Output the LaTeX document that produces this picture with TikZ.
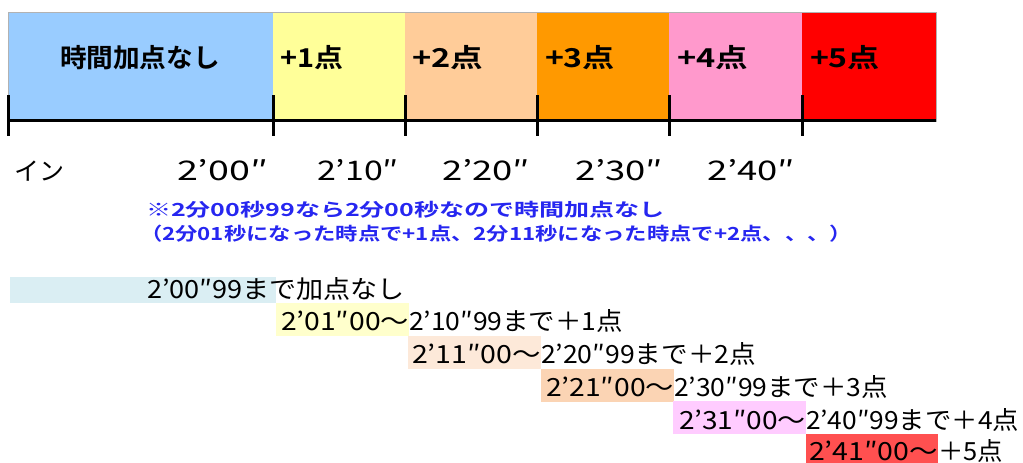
\documentclass[tikz,border=0pt]{standalone}
\usepackage{fontspec}
\usepackage{graphicx}
\setmainfont{Noto Sans CJK JP}
\newfontfamily\jp{Noto Sans CJK JP}
\newfontfamily\jpb{Noto Sans CJK JP Bold}
\newcommand\fitw[2]{\resizebox{#1pt}{\height}{#2}}
\definecolor{c0}{HTML}{99CCFF}
\definecolor{c1}{HTML}{FFFF99}
\definecolor{c2}{HTML}{FFCC99}
\definecolor{c3}{HTML}{FF9900}
\definecolor{c4}{HTML}{FF99CC}
\definecolor{c5}{HTML}{FF0000}
\definecolor{r0}{HTML}{DAEEF3}
\definecolor{r1}{HTML}{FFFFCC}
\definecolor{r2}{HTML}{FDE9D9}
\definecolor{r3}{HTML}{FBD4B4}
\definecolor{r4}{HTML}{FFCCFF}
\definecolor{r5}{HTML}{FF5050}
\definecolor{notecol}{HTML}{2626F0}
\begin{document}
\begin{tikzpicture}[x=1pt,y=-1pt,
  every node/.style={inner sep=0pt, outer sep=0pt},
  seglbl/.style={anchor=base west, font=\jpb\fontsize{26}{26}\selectfont, text=black},
  axlbl/.style={anchor=base east, font=\jp\fontsize{27}{27}\selectfont, text=black},
  note/.style={anchor=base west, font=\jpb\fontsize{18}{18}\selectfont, text=notecol},
  rowtxt/.style={anchor=base west, font=\jp\fontsize{25}{25}\selectfont, text=black},
  axis/.style={line width=3pt, black}
]
\useasboundingbox (0,0) rectangle (1023,463);
% top bar
\fill[c0] (8,12) rectangle (273,121);
\fill[c1] (273,12) rectangle (405,121);
\fill[c2] (405,12) rectangle (537,121);
\fill[c3] (537,12) rectangle (669,121);
\fill[c4] (669,12) rectangle (802,121);
\fill[c5] (802,12) rectangle (936,121);
\draw[black!30, line width=0.8pt] (8,12) rectangle (936,121);
\draw[axis] (8,120) -- (936,120);
\foreach \x in {8,273,405,537,669,802} \draw[axis] (\x,95) -- (\x,136);
% segment labels
\node[seglbl, anchor=base] (l0) at (140,67) {\fitw{160}{時間加点なし}};
\node[seglbl] (l1) at (280,67) {\fitw{63}{+1点}};
\node[seglbl] (l2) at (412,67) {\fitw{71}{+2点}};
\node[seglbl] (l3) at (545,67) {\fitw{70}{+3点}};
\node[seglbl] (l4) at (677,67) {\fitw{71}{+4点}};
\node[seglbl] (l5) at (810,67) {\fitw{70}{+5点}};
% axis labels
\node[anchor=base west, font=\jp\fontsize{25}{25}\selectfont] (in) at (14,180) {イン};
\node[axlbl] (a0) at (268,180) {\fitw{91}{2’00″}};
\node[axlbl] (a1) at (399,180) {\fitw{82}{2’10″}};
\node[axlbl] (a2) at (530,180) {\fitw{88}{2’20″}};
\node[axlbl] (a3) at (663,180) {\fitw{88}{2’30″}};
\node[axlbl] (a4) at (795,180) {\fitw{88}{2’40″}};
% notes
\node[note] (n1) at (146,216) {\fitw{519}{※2分00秒99なら2分00秒なので時間加点なし}};
\node[note] (n2) at (140,240) {\fitw{712}{（2分01秒になった時点で+1点、2分11秒になった時点で+2点、、、）}};
% rows
\fill[r0] (10,277) rectangle (276,303);
\node[rowtxt] (t1) at (147,298) {\fitw{258}{2’00″99まで加点なし}};
\fill[r1] (276,303) rectangle (409,336);
\node[rowtxt] (t2a) at (281,330) {\fitw{128}{2’01″00～}};
\node[rowtxt] (t2b) at (409,330) {\fitw{214}{2’10″99まで＋1点}};
\fill[r2] (408,336) rectangle (541,369);
\node[rowtxt] (t3a) at (412,363) {\fitw{129}{2’11″00～}};
\node[rowtxt] (t3b) at (541,363) {\fitw{215}{2’20″99まで＋2点}};
\fill[r3] (541,369) rectangle (674,402);
\node[rowtxt] (t4a) at (546,396) {\fitw{128}{2’21″00～}};
\node[rowtxt] (t4b) at (674,396) {\fitw{214}{2’30″99まで＋3点}};
\fill[r4] (673,401) rectangle (806,434);
\node[rowtxt] (t5a) at (679,429) {\fitw{127}{2’31″00～}};
\node[rowtxt] (t5b) at (806,429) {\fitw{213}{2’40″99まで＋4点}};
\fill[r5] (806,434) rectangle (938,463);
\node[rowtxt] (t6a) at (809,460) {\fitw{129}{2’41″00～}};
\node[rowtxt] (t6b) at (938,460) {\fitw{65}{＋5点}};
\end{tikzpicture}
\end{document}
